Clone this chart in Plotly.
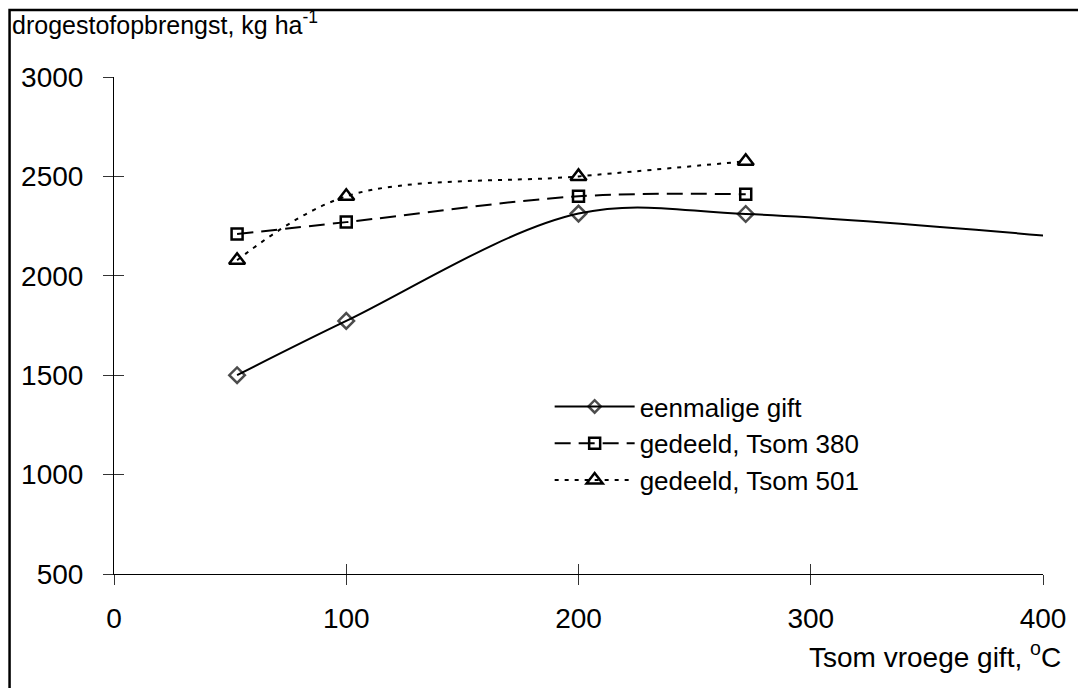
import plotly.graph_objects as go

# Tsom of the early application (degree-days, °C) and dry matter yield (kg/ha)
x_eenmalig = [53, 100, 200, 272, 403]
y_eenmalig = [1500, 1773, 2313, 2311, 2200]
marker_eenmalig = [True, True, True, True, False]

x_tsom380 = [53, 100, 200, 272]
y_tsom380 = [2210, 2270, 2400, 2410]

x_tsom501 = [53, 100, 200, 272]
y_tsom501 = [2078, 2400, 2500, 2576]

names = ["eenmalige gift", "gedeeld, Tsom 380", "gedeeld, Tsom 501"]
x_ticks = [0, 100, 200, 300, 400]
y_ticks = [500, 1000, 1500, 2000, 2500, 3000]

FONT = "Liberation Sans, Arial, sans-serif"
W, H = 1078, 688
ML, MR, MT, MB = 114, 30, 77, 114
PW, PH = W - ML - MR, H - MT - MB


def px_x(p):
    return (p - ML) / PW


def px_y(p):
    return (H - MB - p) / PH


fig = go.Figure()

fig.add_trace(go.Scatter(
    x=x_eenmalig, y=y_eenmalig, name=names[0],
    mode="lines+markers", line=dict(color="black", width=2, shape="spline", smoothing=1.0),
    marker=dict(symbol="diamond-open", size=[12 if m else 0 for m in marker_eenmalig],
                color="black", line=dict(width=2.5, color="black")),
))
fig.add_trace(go.Scatter(
    x=x_tsom380, y=y_tsom380, name=names[1],
    mode="lines+markers", line=dict(color="black", width=2, dash="16px,8px", shape="spline", smoothing=1.0),
    marker=dict(symbol="square-open", size=11, color="black", line=dict(width=2.5, color="black")),
))
fig.add_trace(go.Scatter(
    x=x_tsom501, y=y_tsom501, name=names[2],
    mode="lines+markers", line=dict(color="black", width=2, dash="4px,6px", shape="spline", smoothing=1.0),
    marker=dict(symbol="triangle-up-open", size=14, color="black", line=dict(width=2.5, color="black")),
))
# carrier for the overlay axes that draw the inner half of the tick marks
fig.add_trace(go.Scatter(x=[None], y=[None], xaxis="x2", yaxis="y2",
                         showlegend=False, hoverinfo="skip"))

axis_common = dict(showgrid=False, zeroline=False, showline=True, linecolor="black",
                   linewidth=1, tickcolor="#333", ticklen=10, tickwidth=1,
                   tickfont=dict(family=FONT, size=28, color="black"))

fig.update_layout(
    width=W, height=H,
    margin=dict(l=ML, r=MR, t=MT, b=MB),
    paper_bgcolor="white", plot_bgcolor="white",
    font=dict(family=FONT, color="black"),
    xaxis=dict(range=[0, 400], tickvals=x_ticks, ticks="outside",
               ticklabelstandoff=9, **axis_common),
    yaxis=dict(range=[500, 3000], tickvals=y_ticks, ticks="outside",
               ticklabelstandoff=14, **axis_common),
    xaxis2=dict(range=[0, 400], tickvals=x_ticks, ticks="inside", overlaying="x",
                anchor="y2", showticklabels=False, showgrid=False, zeroline=False,
                showline=False, tickcolor="#333", ticklen=10, tickwidth=1),
    yaxis2=dict(range=[500, 3000], tickvals=y_ticks, ticks="inside", overlaying="y",
                anchor="x2", showticklabels=False, showgrid=False, zeroline=False,
                showline=False, tickcolor="#333", ticklen=10, tickwidth=1),
    legend=dict(x=px_x(552), y=px_y(383), xanchor="left", yanchor="top",
                bgcolor="rgba(0,0,0,0)", itemwidth=80,
                font=dict(family=FONT, size=26, color="black"),
                tracegroupgap=0),
    showlegend=True,
    annotations=[
        dict(text="drogestofopbrengst, kg ha<sup>-1</sup>", xref="paper", yref="paper",
             x=px_x(9), y=px_y(23), xanchor="left", yanchor="middle", showarrow=False,
             font=dict(family=FONT, size=25, color="black")),
        dict(text="Tsom vroege gift, <sup>o</sup>C", xref="paper", yref="paper",
             x=px_x(1068), y=px_y(655), xanchor="right", yanchor="middle", showarrow=False,
             font=dict(family=FONT, size=28, color="black")),
    ],
    shapes=[
        dict(type="rect", xref="paper", yref="paper",
             x0=px_x(9), y0=px_y(10), x1=px_x(1250), y1=px_y(800),
             line=dict(color="black", width=2.5), fillcolor="rgba(0,0,0,0)", layer="above"),
    ],
)

fig.write_html("out.html")
